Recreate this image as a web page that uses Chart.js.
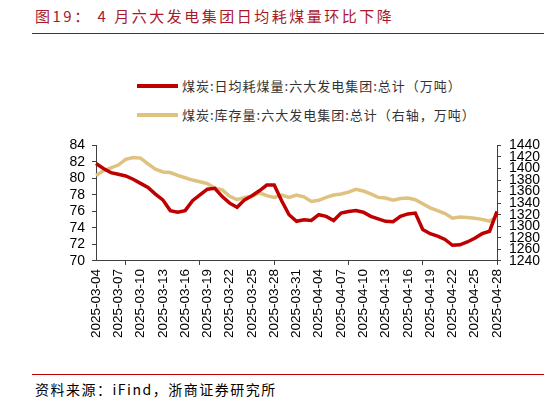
<!DOCTYPE html>
<html lang="zh">

<head>
  <meta charset="UTF-8">
  <title>图19 六大发电集团日均耗煤量</title>
  <script src="https://cdn.jsdelivr.net/npm/chart.js"></script>
  <style>
    body {
      margin: 0;
      width: 548px;
      height: 402px;
      background: #ffffff;
      position: relative;
      overflow: hidden;
      font-family: 'Noto Sans CJK SC', 'Liberation Sans', sans-serif;
    }

    .title {
      position: absolute;
      left: 35px;
      top: 5px;
      font-size: 15px;
      line-height: 22px;
      letter-spacing: 2.5px;
      color: #a8192e;
      white-space: pre;
    }

    .rule {
      position: absolute;
      left: 32px;
      width: 512px;
      height: 1px;
      background: #c00000;
    }

    .legend {
      position: absolute;
      left: 137px;
      font-size: 13px;
      letter-spacing: 1px;
      color: #333333;
    }

    .legend div {
      display: flex;
      align-items: center;
      height: 29px;
    }

    .legend span.swatch {
      display: inline-block;
      width: 41px;
      height: 4px;
      margin-right: 4px;
    }

    .chart-box {
      position: absolute;
      left: 0;
      top: 129px;
      width: 548px;
      height: 213px;
    }

    .source {
      position: absolute;
      left: 35px;
      top: 379px;
      font-size: 14px;
      line-height: 20px;
      letter-spacing: 1.5px;
      color: #000000;
    }
  </style>
</head>

<body>
  <div class="title">图19： 4 月六大发电集团日均耗煤量环比下降</div>
  <div class="rule" style="top:33px"></div>

  <div class="legend" id="legend" style="top:71px"></div>

  <div class="chart-box">
    <canvas id="coalChart"></canvas>
  </div>

  <div class="rule" style="top:374px"></div>
  <div class="source">资料来源：iFind，浙商证券研究所</div>

  <script>
    // dates on the category axis (one point per day, 04-03 not in the series)
    const dates = [
      '2025-03-04', '2025-03-05', '2025-03-06', '2025-03-07', '2025-03-08', '2025-03-09', '2025-03-10',
      '2025-03-11', '2025-03-12', '2025-03-13', '2025-03-14', '2025-03-15', '2025-03-16', '2025-03-17',
      '2025-03-18', '2025-03-19', '2025-03-20', '2025-03-21', '2025-03-22', '2025-03-23', '2025-03-24',
      '2025-03-25', '2025-03-26', '2025-03-27', '2025-03-28', '2025-03-29', '2025-03-30', '2025-03-31',
      '2025-04-01', '2025-04-02', '2025-04-04', '2025-04-05', '2025-04-06', '2025-04-07', '2025-04-08',
      '2025-04-09', '2025-04-10', '2025-04-11', '2025-04-12', '2025-04-13', '2025-04-14', '2025-04-15',
      '2025-04-16', '2025-04-17', '2025-04-18', '2025-04-19', '2025-04-20', '2025-04-21', '2025-04-22',
      '2025-04-23', '2025-04-24', '2025-04-25', '2025-04-26', '2025-04-27', '2025-04-28'
    ];

    // 日均耗煤量, 万吨 (left axis)
    const dailyBurn = [
      81.8, 81.2, 80.7, 80.5, 80.3, 79.9, 79.4, 78.9, 78.1, 77.4, 76.1,
      75.9, 76.1, 77.3, 78.0, 78.7, 78.8, 77.8, 77.0, 76.5, 77.4, 77.9,
      78.5, 79.2, 79.2, 77.3, 75.6, 74.8, 75.0, 74.9, 75.6, 75.4, 74.9,
      75.8, 76.0, 76.1, 75.9, 75.4, 75.1, 74.8, 74.75, 75.4, 75.7, 75.8,
      73.8, 73.3, 73.0, 72.6, 71.9, 71.95, 72.3, 72.75, 73.3, 73.6, 76.0
    ];

    // 库存量, 万吨 (right axis)
    const stock = [
      1388, 1396, 1401, 1406, 1416, 1419, 1418, 1408, 1399, 1394, 1393,
      1388, 1384, 1380, 1377, 1374, 1366, 1363, 1352, 1346, 1350, 1352,
      1358, 1353, 1350, 1354, 1350, 1354, 1351, 1343, 1345, 1350, 1354,
      1356, 1359, 1364, 1361, 1356, 1350, 1349, 1345, 1348, 1349, 1346,
      1339, 1332, 1327, 1322, 1314, 1316, 1315, 1314, 1312, 1309, 1316
    ];

    const seriesNames = [
      '煤炭:日均耗煤量:六大发电集团:总计（万吨）',
      '煤炭:库存量:六大发电集团:总计（右轴，万吨）'
    ];
    const seriesColors = ['#c00000', '#dfc27f'];

    const axisColor = '#404040';
    const tickFont = { family: "'Liberation Sans', Arial, sans-serif", size: 14 };
    const dateFont = { family: "'Liberation Sans', Arial, sans-serif", size: 13.5 };

    // legend drawn as plain html, two stacked rows
    const legendEl = document.getElementById('legend');
    seriesNames.forEach((name, i) => {
      const row = document.createElement('div');
      row.innerHTML = '<span class="swatch" style="background:' + seriesColors[i] + '"></span>' + name;
      legendEl.appendChild(row);
    });

    const ctx = document.getElementById('coalChart').getContext('2d');
    new Chart(ctx, {
      type: 'line',
      data: {
        labels: dates,
        datasets: [
          {
            label: seriesNames[0],
            data: dailyBurn,
            borderColor: seriesColors[0],
            borderWidth: 3.5,
            pointRadius: 0,
            tension: 0,
            yAxisID: 'y'
          },
          {
            label: seriesNames[1],
            data: stock,
            borderColor: seriesColors[1],
            borderWidth: 3.5,
            pointRadius: 0,
            tension: 0,
            yAxisID: 'y1'
          }
        ]
      },
      options: {
        responsive: true,
        maintainAspectRatio: false,
        animation: false,
        layout: { padding: { top: 0, left: 0, right: 0, bottom: 0 } },
        plugins: {
          legend: { display: false },
          tooltip: { enabled: false }
        },
        scales: {
          x: {
            offset: false,
            grid: {
              drawOnChartArea: false,
              tickLength: 4,
              // small tick marks roughly every ten days, counted back from the end
              color: (c) => ((dates.length - 1 - c.index) % 10 === 0 ? axisColor : 'rgba(0,0,0,0)')
            },
            border: { color: axisColor, width: 1 },
            ticks: {
              autoSkip: false,
              minRotation: 90,
              maxRotation: 90,
              padding: 4,
              color: '#000000',
              font: dateFont,
              callback: function (value, index) {
                return index % 3 === 0 ? dates[index] : '';
              }
            }
          },
          y: {
            position: 'left',
            min: 70,
            max: 84,
            grid: { drawOnChartArea: false, tickLength: 4, color: axisColor },
            border: { color: axisColor, width: 1 },
            ticks: {
              stepSize: 2,
              autoSkip: false,
              padding: 7,
              color: '#000000',
              font: tickFont,
              callback: (v) => String(v)
            },
            afterFit: (scale) => { scale.width = 96; }
          },
          y1: {
            position: 'right',
            min: 1240,
            max: 1440,
            grid: { drawOnChartArea: false, tickLength: 4, color: axisColor },
            border: { color: axisColor, width: 1 },
            ticks: {
              stepSize: 20,
              autoSkip: false,
              padding: 8,
              color: '#000000',
              font: tickFont,
              callback: (v) => String(v)
            },
            afterFit: (scale) => { scale.width = 51; }
          }
        }
      }
    });
  </script>
</body>

</html>
